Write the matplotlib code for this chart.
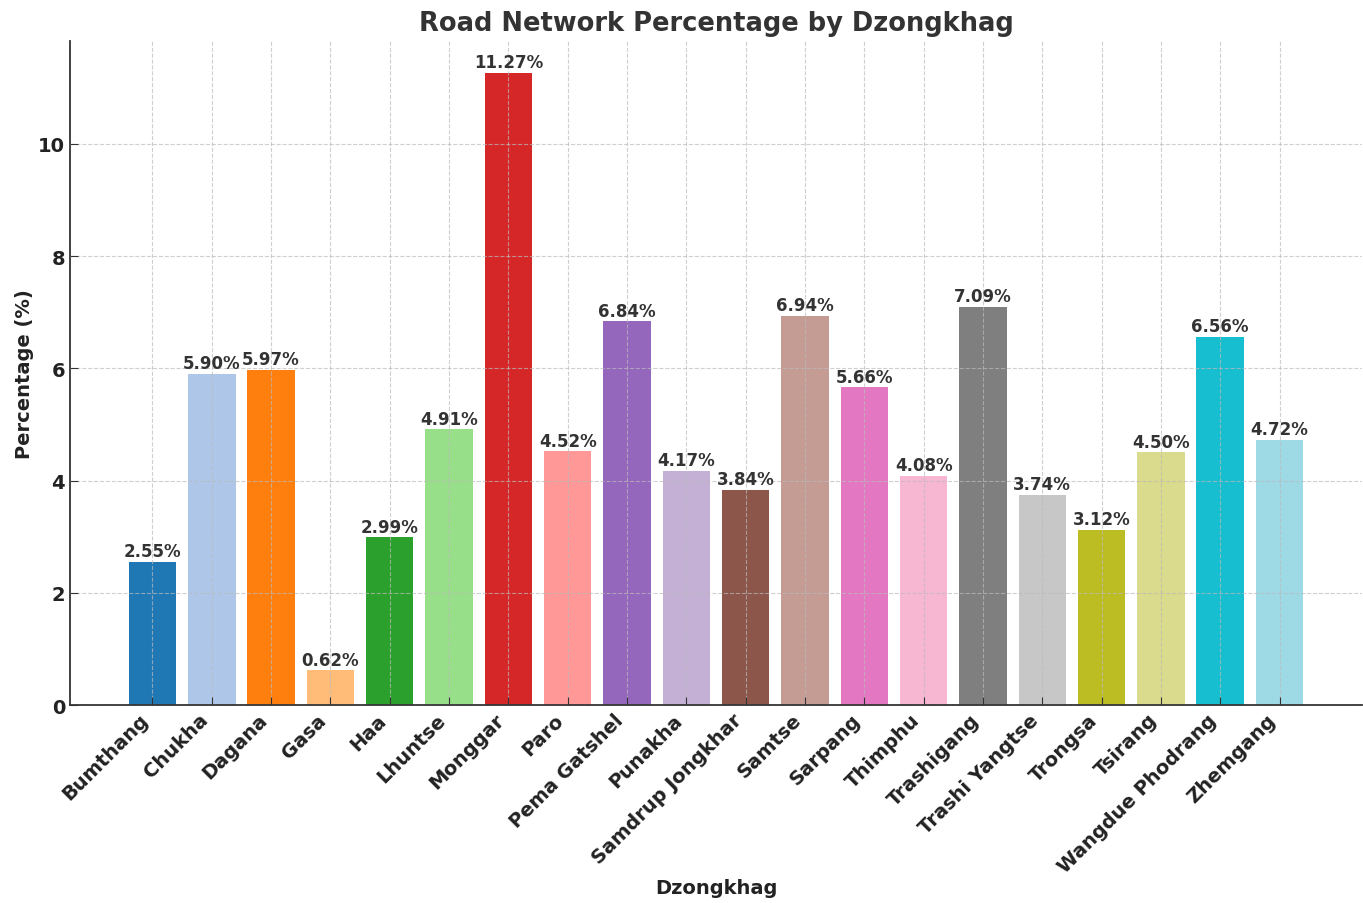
import matplotlib
matplotlib.use("Agg")
import matplotlib.pyplot as plt

districts = ["Bumthang", "Chukha", "Dagana", "Gasa", "Haa", "Lhuntse", "Monggar", "Paro",
             "Pema Gatshel", "Punakha", "Samdrup Jongkhar", "Samtse", "Sarpang", "Thimphu",
             "Trashigang", "Trashi Yangtse", "Trongsa", "Tsirang", "Wangdue Phodrang", "Zhemgang"]
percentages = [2.55, 5.90, 5.97, 0.62, 2.99, 4.91, 11.27, 4.52, 6.84, 4.17, 3.84, 6.94,
               5.66, 4.08, 7.09, 3.74, 3.12, 4.50, 6.56, 4.72]

plt.rcParams['font.family'] = ['DejaVu Sans']
fig = plt.figure(figsize=(13.63, 9.04), dpi=100)
ax = fig.add_axes([70/1363, 1 - 706/904, (1362-70)/1363, (706-42)/904])

colors = [plt.cm.tab20(i) for i in range(len(districts))]
x = range(len(districts))
bars = ax.bar(x, percentages, color=colors, width=0.8)

for b, v in zip(bars, percentages):
    ax.text(b.get_x() + b.get_width()/2, v + 0.03, f"{v:.2f}%", ha='center', va='bottom',
            fontsize=12, fontweight='bold', color='#333333')

ax.set_xticks(list(x))
ax.set_xticklabels(districts, rotation=45, ha='right',
                   fontsize=14, fontweight='bold', color='#222222')
ax.tick_params(axis='y', labelsize=14, labelcolor='#222222')
for lab in ax.get_yticklabels():
    lab.set_fontweight('bold')
ax.tick_params(direction='in', length=6, color='#333333')

ax.set_title("Road Network Percentage by Dzongkhag", fontsize=18.5, fontweight='bold',
             color='#333333', pad=8)
ax.set_xlabel("Dzongkhag", fontsize=14, fontweight='bold', color='#222222', labelpad=2)
ax.set_ylabel("Percentage (%)", fontsize=14, fontweight='bold', color='#222222', labelpad=3)

ax.spines['top'].set_visible(False)
ax.spines['right'].set_visible(False)
ax.spines['left'].set_color('#333333')
ax.spines['bottom'].set_color('#333333')
ax.spines['left'].set_linewidth(1.3)
ax.spines['bottom'].set_linewidth(1.3)

ax.set_axisbelow(False)
ax.grid(True, linestyle='--', color='#bbbbbb', alpha=0.7, linewidth=0.8)

fig.savefig("out.png", dpi=100)
